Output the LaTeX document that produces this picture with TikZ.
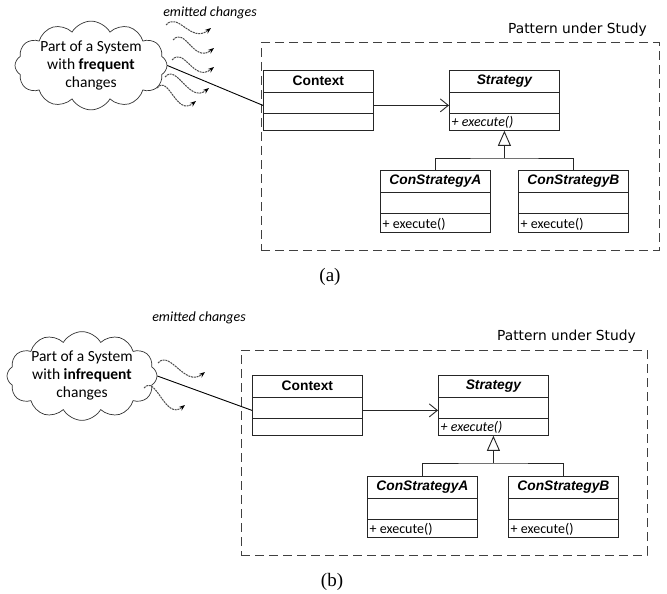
\documentclass[tikz,border=0pt]{standalone}
\usepackage{fontspec}
\setmainfont{Liberation Serif}
\newfontfamily\arialf{Liberation Sans}
\newfontfamily\calf{Carlito}
\newfontfamily\tahf{DejaVu Sans}
\newfontfamily\timesf{Liberation Serif}
\usetikzlibrary{shapes.symbols,arrows.meta}
\tikzset{
  umlrect/.style={draw=black!85, line width=0.8pt, minimum width=110pt, inner sep=0pt, anchor=north west},
  umltitle/.style={inner sep=0pt, font=\arialf\bfseries\fontsize{13.8}{15}\selectfont},
  umlmeth/.style={inner sep=0pt, anchor=base west, font=\calf\fontsize{14}{15}\selectfont},
  divline/.style={draw=black!85, line width=0.8pt},
  patbox/.style={draw=black!75, line width=1pt, dash pattern=on 9pt off 5pt, inner sep=0pt},
  pattext/.style={inner sep=0pt, anchor=east, font=\tahf\fontsize{13.8}{15}\selectfont},
  cloudbox/.style={cloud, cloud puffs=12, cloud puff arc=120, cloud ignores aspect, draw=black!80, line width=0.7pt, inner sep=0pt, align=center, font=\calf\fontsize{15.5}{18}\selectfont},
  emit/.style={inner sep=0pt, font=\calf\itshape\fontsize{14}{15}\selectfont},
  wavy/.style={draw=black!70, line width=1pt, dash pattern=on 2pt off 0.8pt, -{Stealth[length=6pt,width=4.5pt,black]}},
  link/.style={draw=black, line width=0.9pt},
  assoc/.style={draw=black!85, line width=0.9pt, -{Straight Barb[length=8pt,width=13pt]}},
  inherit/.style={draw=black!85, line width=0.9pt, -{Triangle[open,length=15pt,width=13pt,fill=white]}},
  gen/.style={draw=black!85, line width=0.9pt},
  caption/.style={inner sep=0pt, font=\timesf\fontsize{19}{21}\selectfont}
}
\newcommand\umlbox[6]{%
  \node[umlrect, minimum height=#4pt] (#1) at (#2,#3) {};
  \node[umltitle] (#1t) at ([yshift=-11pt]#1.north) {#5};
  \draw[divline] ([yshift=-22pt]#1.north west) -- ([yshift=-22pt]#1.north east);
  \draw[divline] ([yshift=-43pt]#1.north west) -- ([yshift=-43pt]#1.north east);
  \node[umlmeth] (#1m) at ([xshift=2.5pt,yshift=4.5pt]#1.south west) {#6};
}
\begin{document}
\begin{tikzpicture}[x=1pt,y=-1pt]
\useasboundingbox (0,0) rectangle (667,594);

% ===================== (a) =====================
\node[patbox, minimum width=398pt, minimum height=207pt] (patA) at (460,146.5) {};
\node[pattext] (patAt) at (647,30) {Pattern under Study};
\node[cloudbox, minimum width=152pt, minimum height=85pt] (cloudA) at (91,65.5)
  {Part of a System\\with \textbf{frequent}\\changes};
\node[emit] (emitA) at (210,13) {emitted changes};

\umlbox{ctxA}{263}{70}{60}{Context}{}
\umlbox{strA}{449}{70}{60}{\itshape Strategy}{\itshape + execute()}
\umlbox{caA}{380}{170}{62}{\itshape ConStrategyA}{+ execute()}
\umlbox{cbA}{518}{170}{62}{\itshape ConStrategyB}{+ execute()}

\coordinate (wa1s) at (166,25); \coordinate (wa1e) at (211,28);
\coordinate (wa2s) at (173,40); \coordinate (wa2e) at (214,48);
\coordinate (wa3s) at (172,60); \coordinate (wa3e) at (214,67);
\coordinate (wa4s) at (165,77); \coordinate (wa4e) at (209,88);
\coordinate (wa5s) at (157,88); \coordinate (wa5e) at (196,101);
\foreach \i in {1,...,5}{
  \draw[wavy] (wa\i s) .. controls +(12,-14) and +(-20,16) .. (wa\i e);
}
\draw[link] (cloudA.east) -- ([yshift=-5pt]ctxA.west);
\draw[assoc] ([yshift=-5pt]ctxA.east) -- ([yshift=-5pt]strA.west);
\coordinate (jA) at (strA.south |- 0,158);
\draw[inherit] (jA) -- (strA.south);
\draw[gen] (caA.north) |- (jA) -| (cbA.north);
\node[caption] (capA) at (330,277) {(a)};

% ===================== (b) =====================
\node[patbox, minimum width=406pt, minimum height=205pt] (patB) at (444,452.5) {};
\node[pattext] (patBt) at (636,337) {Pattern under Study};
\node[cloudbox, minimum width=150pt, minimum height=78pt] (cloudB) at (82,376)
  {Part of a System\\with \textbf{infrequent}\\changes};
\node[emit] (emitB) at (199,318) {emitted changes};

\umlbox{ctxB}{252}{375}{60}{Context}{}
\umlbox{strB}{438}{375}{60}{\itshape Strategy}{\itshape + execute()}
\umlbox{caB}{367}{476}{61}{\itshape ConStrategyA}{+ execute()}
\umlbox{cbB}{508}{476}{61}{\itshape ConStrategyB}{+ execute()}

\coordinate (wb1s) at (158,363); \coordinate (wb1e) at (205,372);
\coordinate (wb2s) at (144,388); \coordinate (wb2e) at (185,405);
\foreach \i in {1,2}{
  \draw[wavy] (wb\i s) .. controls +(12,-14) and +(-20,16) .. (wb\i e);
}
\draw[link] (cloudB.east) -- ([yshift=-5pt]ctxB.west);
\draw[assoc] ([yshift=-5pt]ctxB.east) -- ([yshift=-5pt]strB.west);
\coordinate (jB) at (strB.south |- 0,463);
\draw[inherit] (jB) -- (strB.south);
\draw[gen] (caB.north) |- (jB) -| (cbB.north);
\node[caption] (capB) at (332,582) {(b)};
\end{tikzpicture}
\end{document}
